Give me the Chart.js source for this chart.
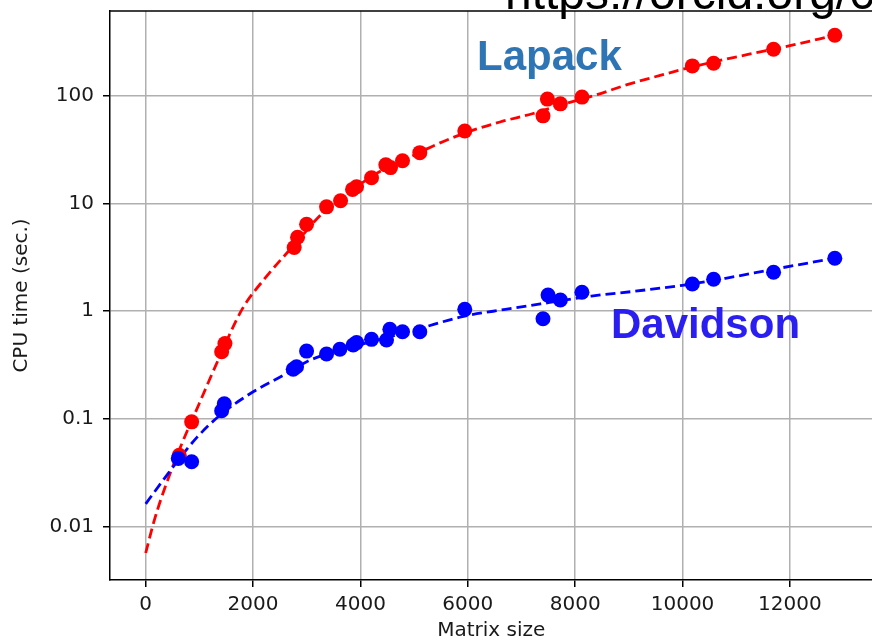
<!DOCTYPE html>
<html>
<head>
<meta charset="utf-8">
<script src="https://cdn.jsdelivr.net/npm/chart.js@4"></script>
<style>
  html, body { margin: 0; padding: 0; background: #fff; overflow: hidden; }
  canvas { display: block; }
</style>
</head>
<body>
<canvas id="chart" width="880" height="643"></canvas>
<script>
// measured points
const lapackSize = [625, 856, 1415, 1476, 2766, 2829, 2997, 3369, 3630, 3853, 3928, 4207, 4473, 4561, 4784, 5106, 5944, 7401, 7483, 7725, 8127, 10183, 10579, 11696, 12837]
const lapackTime = [0.046, 0.094, 0.42, 0.50, 3.9, 4.85, 6.4, 9.3, 10.6, 13.5, 14.3, 17.3, 22.8, 21.5, 24.9, 29.6, 47, 65, 93, 84, 97, 189, 200, 270, 364]

const davidsonSize = [607, 856, 1415, 1464, 2748, 2810, 2997, 3369, 3617, 3865, 3928, 4207, 4486, 4548, 4784, 5106, 5944, 7401, 7495, 7725, 8127, 10183, 10579, 11696, 12837]
const davidsonTime = [0.043, 0.040, 0.119, 0.138, 0.289, 0.305, 0.426, 0.401, 0.443, 0.486, 0.511, 0.548, 0.541, 0.679, 0.645, 0.645, 1.04, 0.85, 1.41, 1.27, 1.50, 1.79, 1.98, 2.30, 3.10]

// fitted curves (dashed)
const lapackFitSize = [0, 150, 300, 600, 1000, 1400, 1800, 2250, 2800, 3300, 3800, 4300, 4800, 5400, 6000, 6600, 7200, 7800, 8400, 9000, 9600, 10200, 10800, 11400, 12000, 12837]
const lapackFitTime = [0.0057, 0.011, 0.019, 0.048, 0.14, 0.40, 1.05, 2.1, 4.3, 8.2, 12.8, 19, 25, 35, 46, 57, 68, 84, 102, 128, 155, 186, 218, 252, 291, 364]

const davidsonFitSize = [0, 300, 600, 950, 1400, 1950, 2600, 3000, 3500, 4000, 4500, 5100, 5900, 6700, 7500, 8300, 9100, 10000, 10800, 11700, 12837]
const davidsonFitTime = [0.0163, 0.026, 0.041, 0.067, 0.11, 0.172, 0.26, 0.34, 0.42, 0.49, 0.57, 0.69, 0.89, 1.04, 1.2, 1.38, 1.53, 1.74, 2.02, 2.45, 3.1]

const xTicks = [0, 2000, 4000, 6000, 8000, 10000, 12000]
const yTicks = [0.01, 0.1, 1, 10, 100]

const pts = (xs, ys) => xs.map((x, i) => ({ x: x, y: ys[i] }))

const RED = '#ff0000'
const BLUE = '#0000ff'
const tickFont = { family: 'DejaVu Sans', size: 20 }
const gridOpts = { color: '#b0b0b0', lineWidth: 1.5, tickColor: '#000', tickLength: 7, tickWidth: 1.5 }

const extras = {
  id: 'extras',
  afterDraw (chart) {
    const ctx = chart.ctx
    const a = chart.chartArea
    ctx.save()
    // top frame line
    ctx.beginPath()
    ctx.strokeStyle = '#000'
    ctx.lineWidth = 1.5
    ctx.moveTo(a.left, a.top)
    ctx.lineTo(a.right, a.top)
    ctx.stroke()
    // labels
    ctx.textBaseline = 'alphabetic'
    ctx.font = 'bold 42px "Liberation Sans"'
    ctx.fillStyle = '#2e75b6'
    ctx.fillText('Lapack', 477, 70)
    ctx.fillStyle = '#2a1ff0'
    ctx.fillText('Davidson', 611, 338)
    ctx.font = '48px "Liberation Sans"'
    ctx.fillStyle = '#000'
    ctx.fillText('https://orcid.org/0000-0003-2345-1234', 505, 9)
    ctx.restore()
  }
}

new Chart(document.getElementById('chart'), {
  type: 'scatter',
  data: {
    datasets: [
      { data: pts(davidsonSize, davidsonTime), backgroundColor: BLUE, borderColor: BLUE, pointRadius: 7.5, pointBorderWidth: 0 },
      { data: pts(lapackSize, lapackTime), backgroundColor: RED, borderColor: RED, pointRadius: 7.5, pointBorderWidth: 0 },
      { data: pts(davidsonFitSize, davidsonFitTime), showLine: true, pointRadius: 0, borderColor: BLUE, borderWidth: 2.8, borderDash: [10, 5], cubicInterpolationMode: 'monotone' },
      { data: pts(lapackFitSize, lapackFitTime), showLine: true, pointRadius: 0, borderColor: RED, borderWidth: 2.8, borderDash: [10, 5], cubicInterpolationMode: 'monotone' }
    ]
  },
  options: {
    responsive: false,
    animation: false,
    layout: { padding: { top: 11, right: 7, left: 0, bottom: 0 } },
    plugins: { legend: { display: false }, tooltip: { enabled: false } },
    scales: {
      x: {
        type: 'linear',
        min: -665,
        max: 13539,
        afterBuildTicks: s => { s.ticks = xTicks.map(v => ({ value: v })) },
        afterFit: s => { s.height = 63; s.paddingLeft = 0; s.paddingRight = 0 },
        ticks: { font: tickFont, color: '#1a1a1a', padding: 6, maxRotation: 0, callback: v => String(v) },
        grid: gridOpts,
        border: { color: '#000', width: 1.5 },
        title: { display: true, text: 'Matrix size', font: tickFont, color: '#1a1a1a', padding: { top: 0, bottom: 0 } }
      },
      y: {
        type: 'logarithmic',
        min: 0.0032,
        max: 611,
        afterBuildTicks: s => { s.ticks = yTicks.map(v => ({ value: v })) },
        afterFit: s => { s.width = 110; s.paddingTop = 0; s.paddingBottom = 0 },
        ticks: { font: tickFont, color: '#1a1a1a', padding: 9, callback: v => String(v) },
        grid: gridOpts,
        border: { color: '#000', width: 1.5 },
        title: { display: true, text: 'CPU time (sec.)', font: tickFont, color: '#1a1a1a', padding: { top: 10, bottom: 0 } }
      }
    }
  },
  plugins: [extras]
})
</script>
</body>
</html>
